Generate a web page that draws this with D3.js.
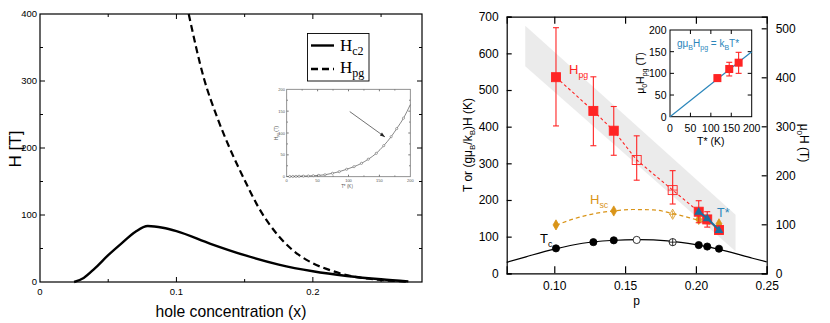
<!DOCTYPE html>
<html>
<head>
<meta charset="utf-8">
<script src="https://cdn.jsdelivr.net/npm/d3@7"></script>
<style>
  body { margin: 0; background: #fff; }
  svg { display: block; font-family: "Liberation Sans", Arial, sans-serif; }
</style>
</head>
<body>
<script>
//wrap everything in an anonymous function so nothing is in global scope
(function (){

    //---- left panel data: critical fields vs hole concentration ----
    var hc2Curve = [[0.025,0],[0.032,6],[0.04,20],[0.05,40],[0.06,58],[0.07,75],[0.079,83.5],[0.09,81],
                    [0.1,76],[0.125,57],[0.15,40],[0.175,26],[0.2,16],[0.225,9],[0.25,4],[0.27,1]];
    var hpgCurve = [[0.109,400],[0.12,305],[0.13,245],[0.139,200],[0.15,152],[0.16,112],[0.176,66],
                    [0.19,40],[0.2,28],[0.215,16],[0.23,8],[0.25,3],[0.27,0.5]];
    var leftXTicks = [0, 0.1, 0.2];
    var leftYTicks = [0, 100, 200, 300, 400];

    //left inset: Hpg vs T*
    var insetT = [5,10,15,20,27,35,43,52,62,74,85,97,109,121,132,145,157,169,178,189];
    var insetH = [0.5,0.6,0.8,1,1.3,1.7,2.3,3,4.5,7.8,11.5,17,23,30.6,40,53.5,71,91.5,110,134];
    var insetCurveEnd = [200, 165];
    var insetTicks = [0, 50, 100, 150, 200];

    //---- right panel data: phase diagram ----
    var hpgP   = [0.1012, 0.1276, 0.142, 0.1582, 0.1836, 0.202, 0.208, 0.2163];
    var hpgT   = [535, 443, 389, 309, 227, 168, 147, 118];
    var hpgLo  = [402, 348, 322, 254, 189, 138, 126, 110];
    var hpgHi  = [670, 536, 455, 375, 280, 198, 168, 126];
    var hpgOpenIdx = [3, 4];

    var hscP = [0.1012, 0.142, 0.1836, 0.202, 0.2163];
    var hscT = [132, 170, 161, 147, 135];
    var hscCurve = [[0.1012,131],[0.115,150],[0.13,164],[0.142,170],[0.155,174],[0.17,173],[0.1836,163],[0.195,152],[0.202,144],[0.2163,124]];

    var tcP = [0.1012, 0.1276, 0.142, 0.1582, 0.1836, 0.202, 0.208, 0.2163];
    var tcT = [68, 85, 90, 91, 85, 77, 73, 67];
    var tcCurve = [[0.0664,30],[0.08,45],[0.1,66],[0.12,82],[0.14,89.5],[0.16,92],[0.18,88.5],
                   [0.2,78],[0.22,62],[0.24,41],[0.25,31]];

    var tStarP = [0.202, 0.208, 0.2163];
    var tStarT = [168, 150, 118];

    var bandPoly = [[0.0795,675],[0.228,160],[0.228,60],[0.0795,565]];

    var rightXTicks = [0.10, 0.15, 0.20, 0.25];
    var rightYTicks = [0, 100, 200, 300, 400, 500, 600, 700];
    var rightY2Ticks = [0, 100, 200, 300, 400, 500];

    //right inset: Hpg vs T*
    var rInsetT  = [116, 145, 168];
    var rInsetH  = [89, 110, 124.6];
    var rInsetLo = [82, 94, 100];
    var rInsetHi = [96, 125.5, 148.5];
    var rInsetLine = [[0,0],[200,150]];
    var rInsetTicks = [0, 50, 100, 150, 200];

    var RED = "#ff2424", ORANGE = "#d99418", BLUE = "#1d6f9e", LBLUE = "#2a86bb";

    var svg = d3.select("body").append("svg")
        .attr("width", 830)
        .attr("height", 323);

    drawLeft();
    drawRight();

    //inward ticks on every side of a frame
    function frameTicks(g, x, y, xVals, yVals, len, color){
        var x0 = x.range()[0], x1 = x.range()[1], y0 = y.range()[0], y1 = y.range()[1];
        xVals.forEach(function(v){
            g.append("line").attr("x1", x(v)).attr("x2", x(v)).attr("y1", y0).attr("y2", y0 - len).attr("stroke", color);
            g.append("line").attr("x1", x(v)).attr("x2", x(v)).attr("y1", y1).attr("y2", y1 + len).attr("stroke", color);
        });
        yVals.forEach(function(v){
            g.append("line").attr("y1", y(v)).attr("y2", y(v)).attr("x1", x0).attr("x2", x0 + len).attr("stroke", color);
            g.append("line").attr("y1", y(v)).attr("y2", y(v)).attr("x1", x1).attr("x2", x1 - len).attr("stroke", color);
        });
    }

    function drawLeft(){
        var x = d3.scaleLinear().domain([0, 0.28]).range([40, 422]);
        var y = d3.scaleLinear().domain([0, 400]).range([282, 14]);
        var g = svg.append("g").attr("class", "left");

        //frame
        g.append("rect").attr("x", 40).attr("y", 14).attr("width", 382).attr("height", 268)
            .attr("fill", "none").attr("stroke", "#000").attr("stroke-width", 1.2);

        frameTicks(g, x, y, [0.1, 0.2], [100, 200, 300], 5, "#000");
        frameTicks(g, x, y, [0.05, 0.15, 0.25], [50, 150, 250, 350], 3, "#000");

        //tick labels
        g.selectAll(".lxt").data(leftXTicks).enter().append("text")
            .attr("x", function(d){ return x(d); })
            .attr("y", 295)
            .attr("text-anchor", "middle")
            .attr("font-size", 9.5)
            .text(function(d){ return d === 0 ? "0" : d3.format(".1f")(d); });
        g.selectAll(".lyt").data(leftYTicks).enter().append("text")
            .attr("x", 37)
            .attr("y", function(d){ return y(d) + 3; })
            .attr("text-anchor", "end")
            .attr("font-size", 9.5)
            .text(function(d){ return d; });

        g.append("text").attr("transform", "translate(21,149) rotate(-90)")
            .attr("text-anchor", "middle").attr("font-size", 17).text("H [T]");
        g.append("text").attr("x", 231).attr("y", 317)
            .attr("text-anchor", "middle").attr("font-size", 15.7).text("hole concentration (x)");

        var line = d3.line()
            .x(function(d){ return x(d[0]); })
            .y(function(d){ return y(d[1]); })
            .curve(d3.curveMonotoneX);

        g.append("path").datum(hpgCurve).attr("d", line)
            .attr("fill", "none").attr("stroke", "#000").attr("stroke-width", 2.2).attr("stroke-dasharray", "7,4");
        g.append("path").datum(hc2Curve).attr("d", line)
            .attr("fill", "none").attr("stroke", "#000").attr("stroke-width", 2.4);

        //legend
        var lg = g.append("g").attr("font-family", "'Liberation Serif', 'Times New Roman', serif");
        lg.append("rect").attr("x", 307.5).attr("y", 33.5).attr("width", 61.5).attr("height", 47.5)
            .attr("fill", "#fff").attr("stroke", "#000").attr("stroke-width", 0.9);
        lg.append("line").attr("x1", 311).attr("x2", 334).attr("y1", 45.5).attr("y2", 45.5)
            .attr("stroke", "#000").attr("stroke-width", 2.4);
        lg.append("line").attr("x1", 311).attr("x2", 334).attr("y1", 69).attr("y2", 69)
            .attr("stroke", "#000").attr("stroke-width", 2.4).attr("stroke-dasharray", "7,4");
        var t1 = lg.append("text").attr("x", 340).attr("y", 51).attr("font-size", 17);
        t1.append("tspan").text("H");
        t1.append("tspan").attr("font-size", 12).attr("dy", 4).text("c2");
        var t2 = lg.append("text").attr("x", 340).attr("y", 73).attr("font-size", 17);
        t2.append("tspan").text("H");
        t2.append("tspan").attr("font-size", 12).attr("dy", 4).text("pg");

        drawLeftInset(g);
    }

    function drawLeftInset(parent){
        var x = d3.scaleLinear().domain([0, 200]).range([286.7, 410.3]);
        var y = d3.scaleLinear().domain([0, 200]).range([176.7, 89.3]);
        var g = parent.append("g").attr("class", "leftInset");
        var gray = "#777";

        g.append("rect").attr("x", 286.7).attr("y", 89.3).attr("width", 123.6).attr("height", 87.4)
            .attr("fill", "#fff").attr("stroke", gray).attr("stroke-width", 0.8);
        frameTicks(g, x, y, [50, 100, 150], [50, 100, 150], 2, gray);
        frameTicks(g, x, y, [25, 75, 125, 175], [25, 75, 125, 175], 1.2, gray);

        g.selectAll(".ixt").data(insetTicks).enter().append("text")
            .attr("x", function(d){ return x(d); }).attr("y", 181.5)
            .attr("text-anchor", "middle").attr("font-size", 4).attr("fill", "#555")
            .text(function(d){ return d; });
        g.selectAll(".iyt").data(insetTicks).enter().append("text")
            .attr("x", 285).attr("y", function(d){ return y(d) + 1.5; })
            .attr("text-anchor", "end").attr("font-size", 4).attr("fill", "#555")
            .text(function(d){ return d; });
        g.append("text").attr("x", 347).attr("y", 188).attr("text-anchor", "middle")
            .attr("font-size", 4.5).attr("fill", "#555").text("T* (K)");
        var yl = g.append("text").attr("transform", "translate(278,133) rotate(-90)")
            .attr("text-anchor", "middle").attr("font-size", 4.5).attr("fill", "#555");
        yl.append("tspan").text("H");
        yl.append("tspan").attr("font-size", 3.2).attr("dy", 1).text("pg");
        yl.append("tspan").attr("dy", -1).text(" (T)");

        var pts = insetT.map(function(t, i){ return [t, insetH[i]]; });
        var line = d3.line()
            .x(function(d){ return x(d[0]); })
            .y(function(d){ return y(d[1]); })
            .curve(d3.curveMonotoneX);
        g.append("path").datum([[0, 0.4]].concat(pts, [insetCurveEnd])).attr("d", line)
            .attr("fill", "none").attr("stroke", "#555").attr("stroke-width", 0.7);
        g.selectAll(".ipt").data(pts).enter().append("circle")
            .attr("cx", function(d){ return x(d[0]); })
            .attr("cy", function(d){ return y(d[1]); })
            .attr("r", 1.1).attr("fill", "#fff").attr("stroke", "#555").attr("stroke-width", 0.5);

        //arrow pointing at the curve
        var ax1 = x(102), ay1 = y(149), ax2 = x(159), ay2 = y(91);
        g.append("line").attr("x1", ax1).attr("y1", ay1).attr("x2", ax2).attr("y2", ay2)
            .attr("stroke", "#333").attr("stroke-width", 0.7);
        var ang = Math.atan2(ay2 - ay1, ax2 - ax1);
        var hl = 5, hw = 1.8;
        g.append("path")
            .attr("d", "M" + ax2 + "," + ay2 +
                "L" + (ax2 - hl * Math.cos(ang) + hw * Math.sin(ang)) + "," + (ay2 - hl * Math.sin(ang) - hw * Math.cos(ang)) +
                "L" + (ax2 - hl * Math.cos(ang) - hw * Math.sin(ang)) + "," + (ay2 - hl * Math.sin(ang) + hw * Math.cos(ang)) + "Z")
            .attr("fill", "#222");
    }

    function drawRight(){
        var x = d3.scaleLinear().domain([0.0664, 0.25]).range([506.7, 766.7]);
        var y = d3.scaleLinear().domain([0, 700]).range([273.3, 16.7]);
        var y2 = d3.scaleLinear().domain([0, 523.7]).range([273.3, 16.7]);
        var g = svg.append("g").attr("class", "right");

        //grey band behind the data
        g.append("path").datum(bandPoly)
            .attr("d", d3.line().x(function(d){ return x(d[0]); }).y(function(d){ return y(d[1]); }))
            .attr("fill", "#ebebeb");

        //axes with inward ticks
        g.append("g").attr("transform", "translate(0,273.3)")
            .call(d3.axisBottom(x).tickValues(rightXTicks).tickSize(-7).tickPadding(8).tickFormat(d3.format(".2f")))
            .call(styleAxis);
        g.append("g").attr("transform", "translate(0,16.7)")
            .call(d3.axisTop(x).tickValues([0.10, 0.15, 0.20]).tickSize(-7).tickFormat(""))
            .call(styleAxis);
        g.append("g").attr("transform", "translate(506.7,0)")
            .call(d3.axisLeft(y).tickValues(rightYTicks).tickSize(-5).tickPadding(8))
            .call(styleAxis);
        g.append("g").attr("transform", "translate(766.7,0)")
            .call(d3.axisRight(y2).tickValues(rightY2Ticks).tickSize(-5).tickPadding(9))
            .call(styleAxis);

        //axis titles
        g.append("text").attr("x", 636.7).attr("y", 304.5).attr("text-anchor", "middle").attr("font-size", 12).text("p");
        var yl = g.append("text").attr("transform", "translate(472,145) rotate(-90)")
            .attr("text-anchor", "middle").attr("font-size", 12);
        yl.append("tspan").text("T or (gμ");
        yl.append("tspan").attr("font-size", 8).attr("dy", 3).text("B");
        yl.append("tspan").attr("dy", -3).text("/k");
        yl.append("tspan").attr("font-size", 8).attr("dy", 3).text("B");
        yl.append("tspan").attr("dy", -3).text(")H  (K)");
        var yr = g.append("text").attr("transform", "translate(800,143) rotate(90)")
            .attr("text-anchor", "middle").attr("font-size", 12);
        yr.append("tspan").text("μ");
        yr.append("tspan").attr("font-size", 8).attr("dy", 3).text("0");
        yr.append("tspan").attr("dy", -3).text("H (T)");

        var line = d3.line()
            .x(function(d){ return x(d[0]); })
            .y(function(d){ return y(d[1]); });

        //Tc curve and points
        g.append("path").datum(tcCurve).attr("d", line.curve(d3.curveMonotoneX))
            .attr("fill", "none").attr("stroke", "#000").attr("stroke-width", 1.2);
        tcP.forEach(function(p, i){
            var open = (i === 3 || i === 4);
            g.append("circle").attr("cx", x(p)).attr("cy", y(tcT[i])).attr("r", 3.6)
                .attr("fill", open ? "#fff" : "#000").attr("stroke", "#000").attr("stroke-width", 0.8);
            if (i === 4) plusMark(g, x(p), y(tcT[i]), 3.6, "#000");
        });

        //Hsc fit and points
        g.append("path").datum(hscCurve).attr("d", line.curve(d3.curveMonotoneX))
            .attr("fill", "none").attr("stroke", ORANGE).attr("stroke-width", 1.2).attr("stroke-dasharray", "4,3");
        hscP.forEach(function(p, i){
            var open = (i === 2);
            g.append("path").attr("d", d3.symbol(d3.symbolDiamond, 30)())
                .attr("transform", "translate(" + x(p) + "," + y(hscT[i]) + ")")
                .attr("fill", open ? "none" : ORANGE).attr("stroke", ORANGE).attr("stroke-width", 0.8);
            if (open) plusMark(g, x(p), y(hscT[i]), 3.5, ORANGE);
        });

        //Hpg dashed line, error bars and squares
        var hpgPts = hpgP.map(function(p, i){ return [p, hpgT[i]]; });
        g.append("path").datum(hpgPts).attr("d", line.curve(d3.curveLinear))
            .attr("fill", "none").attr("stroke", RED).attr("stroke-width", 1.1).attr("stroke-dasharray", "3,2.5");
        hpgP.forEach(function(p, i){
            errorBar(g, x(p), y(hpgLo[i]), y(hpgHi[i]), 3, RED);
        });
        hpgP.forEach(function(p, i){
            var open = hpgOpenIdx.indexOf(i) >= 0;
            g.append("rect").attr("x", x(p) - 4.5).attr("y", y(hpgT[i]) - 4.5)
                .attr("width", 9).attr("height", 9)
                .attr("fill", open ? "none" : RED).attr("stroke", RED).attr("stroke-width", 0.9);
            if (i === 4) plusMark(g, x(p), y(hpgT[i]), 4.5, RED);
        });

        //T* line and triangles
        var tsPts = tStarP.map(function(p, i){ return [p, tStarT[i]]; });
        g.append("path").datum(tsPts).attr("d", line.curve(d3.curveLinear))
            .attr("fill", "none").attr("stroke", BLUE).attr("stroke-width", 2);
        tsPts.forEach(function(d){
            g.append("path").attr("d", d3.symbol(d3.symbolTriangle, 34)())
                .attr("transform", "translate(" + x(d[0]) + "," + (y(d[1]) + 0.5) + ")")
                .attr("fill", BLUE);
        });

        //series labels
        subLabel(g, 569, 74, "H", "pg", RED, 13);
        subLabel(g, 590, 204, "H", "sc", ORANGE, 13);
        subLabel(g, 540, 243, "T", "c", "#000", 13);
        g.append("text").attr("x", 717).attr("y", 217).attr("font-size", 12.5).attr("fill", LBLUE).text("T*");

        drawRightInset(g);
    }

    function drawRightInset(parent){
        var x = d3.scaleLinear().domain([0, 200]).range([670, 751.7]);
        var y = d3.scaleLinear().domain([0, 200]).range([116.7, 30]);
        var g = parent.append("g").attr("class", "rightInset");

        g.append("rect").attr("x", 670).attr("y", 30).attr("width", 81.7).attr("height", 86.7)
            .attr("fill", "#fff").attr("stroke", "#000").attr("stroke-width", 1);
        frameTicks(g, x, y, [50, 100, 150], [50, 100, 150], 4, "#000");

        g.selectAll(".rxt").data(rInsetTicks).enter().append("text")
            .attr("x", function(d){ return x(d); }).attr("y", 132)
            .attr("text-anchor", "middle").attr("font-size", 10.5)
            .text(function(d){ return d; });
        g.selectAll(".ryt").data(rInsetTicks).enter().append("text")
            .attr("x", 666.5).attr("y", function(d){ return y(d) + 4; })
            .attr("text-anchor", "end").attr("font-size", 10.5)
            .text(function(d){ return d; });
        g.append("text").attr("x", 710.8).attr("y", 144.5).attr("text-anchor", "middle")
            .attr("font-size", 10.5).text("T* (K)");
        var yl = g.append("text").attr("transform", "translate(644,73) rotate(-90)")
            .attr("text-anchor", "middle").attr("font-size", 10.5);
        yl.append("tspan").text("μ");
        yl.append("tspan").attr("font-size", 7).attr("dy", 2.5).text("0");
        yl.append("tspan").attr("dy", -2.5).text("H");
        yl.append("tspan").attr("font-size", 7).attr("dy", 2.5).text("pg");
        yl.append("tspan").attr("dy", -2.5).text(" (T)");

        g.append("path").datum(rInsetLine)
            .attr("d", d3.line().x(function(d){ return x(d[0]); }).y(function(d){ return y(d[1]); }))
            .attr("stroke", LBLUE).attr("stroke-width", 1.2).attr("fill", "none");

        rInsetT.forEach(function(t, i){
            errorBar(g, x(t), y(rInsetLo[i]), y(rInsetHi[i]), 3, RED);
        });
        rInsetT.forEach(function(t, i){
            g.append("rect").attr("x", x(t) - 4).attr("y", y(rInsetH[i]) - 4)
                .attr("width", 8).attr("height", 8).attr("fill", RED);
        });

        var eq = g.append("text").attr("x", 677).attr("y", 47).attr("font-size", 10).attr("fill", LBLUE);
        eq.append("tspan").text("gμ");
        eq.append("tspan").attr("font-size", 7).attr("dy", 2.5).text("B");
        eq.append("tspan").attr("dy", -2.5).text("H");
        eq.append("tspan").attr("font-size", 7).attr("dy", 2.5).text("pg");
        eq.append("tspan").attr("dy", -2.5).text(" = k");
        eq.append("tspan").attr("font-size", 7).attr("dy", 2.5).text("B");
        eq.append("tspan").attr("dy", -2.5).text("T*");
    }

    function styleAxis(sel){
        sel.select(".domain").attr("stroke", "#000").attr("stroke-width", 1.2);
        sel.selectAll(".tick line").attr("stroke", "#000").attr("stroke-width", 1.2);
        sel.selectAll(".tick text").attr("font-size", 12).attr("fill", "#000")
            .attr("font-family", "'Liberation Sans', Arial, sans-serif");
    }

    function errorBar(g, cx, yLo, yHi, cap, color){
        g.append("line").attr("x1", cx).attr("x2", cx).attr("y1", yLo).attr("y2", yHi).attr("stroke", color).attr("stroke-width", 1.1);
        g.append("line").attr("x1", cx - cap).attr("x2", cx + cap).attr("y1", yLo).attr("y2", yLo).attr("stroke", color).attr("stroke-width", 1.1);
        g.append("line").attr("x1", cx - cap).attr("x2", cx + cap).attr("y1", yHi).attr("y2", yHi).attr("stroke", color).attr("stroke-width", 1.1);
    }

    function plusMark(g, cx, cy, r, color){
        g.append("line").attr("x1", cx - r).attr("x2", cx + r).attr("y1", cy).attr("y2", cy).attr("stroke", color).attr("stroke-width", 0.8);
        g.append("line").attr("x1", cx).attr("x2", cx).attr("y1", cy - r).attr("y2", cy + r).attr("stroke", color).attr("stroke-width", 0.8);
    }

    function subLabel(g, x, y, main, sub, color, size){
        var t = g.append("text").attr("x", x).attr("y", y).attr("font-size", size).attr("fill", color);
        t.append("tspan").text(main);
        t.append("tspan").attr("font-size", size * 0.68).attr("dy", 4).text(sub);
    }

})();
</script>
</body>
</html>
